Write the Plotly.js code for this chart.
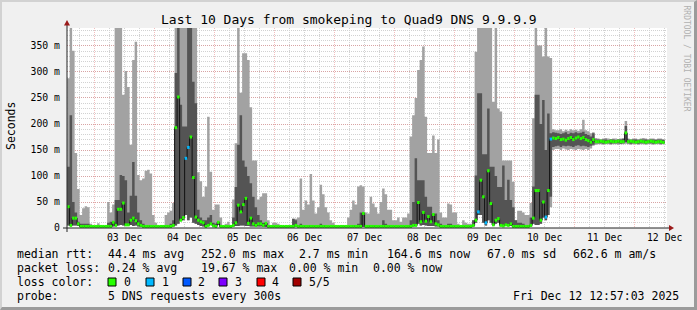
<!DOCTYPE html>
<html><head><meta charset="utf-8">
<script src="https://cdn.plot.ly/plotly-3.0.1.min.js"></script>
<style>
html,body{margin:0;padding:0;background:#f0f0f0;}
#wrap{position:relative;width:697px;height:310px;}
#chart{position:absolute;left:0;top:0;width:697px;height:310px;}
#frame{position:absolute;left:0;top:0;width:697px;height:310px;box-sizing:border-box;border-left:2px solid #d2d2d2;border-top:2px solid #d2d2d2;border-right:3px solid #9b9b9b;border-bottom:3px solid #9b9b9b;pointer-events:none;}
</style>
</head><body>
<div id="wrap"><div id="chart"></div><div id="frame"></div></div>
<script>
// ---- time frame (hourly RRA bins, 2025-12-02 13:00 .. 2025-12-12 12:00) ----
const firstBin = Date.UTC(2025, 11, 2, 13, 0, 0);
const viewStart = Date.UTC(2025, 11, 2, 12, 57, 3);
const viewEnd = Date.UTC(2025, 11, 12, 12, 57, 3);

// ---- smoke: sorted pings (ms) per hour ----
const ping5 = [
288,420,341,144,75,25,38,42,40,8,
5,5,9,6,5,5,50,30,45,420,
420,420,256,302,271,160,323,358,102,92,
95,110,112,105,25,10,5,5,6,25,
30,33,48,420,420,420,420,420,420,420,
420,420,107,90,60,80,214,108,35,45,
45,20,5,8,12,6,55,163,420,260,
336,336,323,232,130,130,55,60,67,67,
15,6,10,10,8,5,4,5,5,6,
18,18,20,95,35,53,45,104,53,28,
40,83,65,40,30,15,10,6,5,6,
6,5,20,35,53,45,80,82,80,30,
28,60,47,40,28,50,76,65,35,35,
15,15,20,12,20,20,28,176,217,250,
304,323,349,214,144,144,178,144,170,30,
20,20,47,45,30,30,8,5,15,10,
8,8,15,339,420,420,420,420,420,420,
243,420,230,224,130,130,130,130,89,15,
33,33,30,25,25,48,211,420,351,351,
330,420,330,327,190,188,188,190,186,189,
187,190,188,189,187,190,208,188,186,182,
184,173,172,171,172,173,172,171,172,172,
171,172,173,206,172,171,172,172,171,172,
173,172,171,172,172,171,172,172,171];

const ping4 = [
118,217,50,30,12,8,8,8,8,4,
3.5,3.5,5,4,3.5,3.5,10,12,12,54,
54,102,100,92,30,62,127,62,30,15,
8,6,6,5,4,3.5,3.5,3.5,3.5,5,
6,8,15,298,420,237,195,195,420,420,
281,240,35,20,15,15,20,25,10,8,
12,6,3.5,4,5,4,20,79,160,217,
130,118,100,86,60,40,25,15,10,10,
5,4,4,4,4,3.5,3.5,3.5,3.5,3.5,
18,15,6,8,5,5,5,6,5,4,
5,8,6,5,4,4,4,3.5,3.5,3.5,
3.5,3.5,4,5,6,5,8,30,30,6,
5,6,5,5,4,5,15,8,5,5,
4,4,4,4,4,4,5,15,50,134,
92,92,92,60,41,41,28,28,15,8,
5,5,8,8,5,5,4,3.5,4,4,
4,4,15,101,259,259,142,142,230,118,
118,100,79,79,120,54,93,54,40,15,
10,10,8,6,6,20,80,256,256,200,
246,150,220,182,184,183,182,181,182,184,
181,183,182,184,182,183,185,181,179,176,
182,170,170,169,170,170,169,170,170,169,
170,170,171,196,170,169,170,170,169,170,
170,170,169,170,170,169,170,170,169];

const ping2 = [
5,5,5,5,4,2,2,2,2,2,
2,2,2,2,2,2,2,2,3,4,
5,6,5,4,5,6,4,5,3,2,
2,2,2,2,2,2,2,2,2,2,
2,2,3,5,8,15,15,25,15,20,
10,8,6,4,3,3,6,8,4,3,
6,2,2,2,2,2,3,4,4,5,
5,4,4,3,3,3,3,3,2,2,
2,2,2,2,2,2,2,2,2,2,
2,2,2,2,2,2,2,2,2,2,
2,2,2,2,2,2,2,2,2,2,
2,2,2,2,2,2,2,2,2,2,
2,2,2,2,2,2,2,2,2,2,
2,2,2,2,2,2,2,3,3,4,
8,5,6,5,4,4,4,3,3,2,
2,2,2,2,2,2,2,2,2,2,
2,2,3,10,25,25,10,5,15,10,
5,8,10,5,5,5,5,4,3,2,
2,2,2,2,2,3,8,6,6,8,
20,15,25,60,156,157,158,156,158,157,
158,157,156,158,159,157,158,157,156,158,
160,163,163,163,162,163,163,162,163,163,
163,162,163,165,163,162,163,163,162,163,
163,162,163,163,162,163,163,162,163];

const ping1 = [
5,5,5,5,4,2,2,2,2,2,
2,2,2,2,2,2,2,2,3,4,
5,6,5,4,5,6,4,5,3,2,
2,2,2,2,2,2,2,2,2,2,
2,2,3,5,8,15,15,25,15,20,
10,8,6,4,3,3,6,8,4,3,
6,2,2,2,2,2,3,4,4,5,
5,4,4,3,3,3,3,3,2,2,
2,2,2,2,2,2,2,2,2,2,
2,2,2,2,2,2,2,2,2,2,
2,2,2,2,2,2,2,2,2,2,
2,2,2,2,2,2,2,2,2,2,
2,2,2,2,2,2,2,2,2,2,
2,2,2,2,2,2,2,3,3,4,
8,5,6,5,4,4,4,3,3,2,
2,2,2,2,2,2,2,2,2,2,
2,2,3,10,25,25,10,5,15,10,
5,8,10,5,5,5,5,4,3,2,
2,2,2,2,2,3,8,6,6,8,
20,15,25,40,150,152,152,150,153,151,
150,152,151,150,152,151,150,152,150,153,
158,160,161,161,160,161,161,160,161,161,
160,161,161,162,161,160,161,161,160,161,
161,160,161,161,160,161,161,160,161];

const medianRtt = [
41,5,19,19,8,3,3,3,3,3,
3,3,3,3,3,3,3,3,11,5,
36,36,48,6,6,15,19,14,8,5,
3,3,3,3,3,3,3,3,3,3,
3,3,5,193,252,15,20,134,155,175,
97,21,15,12,10,3,5,8,4,3,
11,3,3,3,3,3,5,10,44,31,
45,57,9,19,8,5,8,8,5,9,
3,3,3,3,3,3,3,3,3,3,
3,5,3,3,3,3,3,3,3,3,
3,3,3,3,3,3,3,3,3,3,
3,3,3,3,3,3,3,3,28,3,
3,3,3,3,3,3,3,3,3,3,
3,3,3,3,3,3,3,3,5,5,
49,12,30,13,22,12,26,8,6,3,
3,3,3,3,3,3,3,3,3,3,
3,3,5,15,31,92,60,10,110,47,
6,15,18,5,4,6,5,8,3,3,
3,3,3,3,3,5,19,72,72,15,
50,21,72,171,173,172,174,170,171,169,
172,174,170,173,175,172,174,170,168,165,
170,166,166,167,166,165,166,167,166,166,
167,166,166,183,166,167,166,165,166,167,
166,165,166,167,166,165,166,166,164.6];

// lost pings (of 5) per hour
const lostPings = [
0,0,0,0,0,0,0,0,0,0, 0,0,0,0,0,0,0,0,0,0,
0,0,0,0,0,0,0,0,0,0, 0,0,0,0,0,0,0,0,0,0,
0,0,0,0,0,0,0,1,1,0, 0,0,0,0,0,0,0,0,0,0,
0,0,0,0,0,0,0,0,0,0, 0,0,0,0,0,0,0,0,0,0,
0,0,0,0,0,0,0,0,0,0, 0,0,0,0,0,0,0,0,0,0,
0,0,0,0,0,0,0,0,0,0, 0,0,0,0,0,0,0,0,0,0,
0,0,0,0,0,0,0,0,0,0, 0,0,0,0,0,0,0,0,0,0,
0,0,0,0,0,0,0,0,0,0, 0,0,0,0,0,0,0,0,0,0,
0,0,0,0,1,0,0,1,0,0, 0,0,0,0,0,0,0,0,0,0,
0,0,0,0,0,0,0,0,0,0, 0,1,0,1,0,0,0,0,0,0,
0,0,0,0,0,0,0,0,0,0, 0,0,0,0,0,0,0,0,0,0,
0,0,0,0,0,0,0,0,0,0, 0,0,0,0,0,0,0,0,0];

const lossColors = ['#26ff00','#00b8ff','#0059ff','#7e00ff','#ff0000','#a10000'];
const lossLabels = ['0','1','2','3','4','5/5'];

const yTickVals = [0,50,100,150,200,250,300,350];
const yTickText = ['0','50 m','100 m','150 m','200 m','250 m','300 m','350 m'];

const titleText = 'Last 10 Days from smokeping to Quad9 DNS 9.9.9.9';
const legendRows = [
  [[16,'median rtt:'],[107,'44.4 ms avg'],[200,'252.0 ms max'],[298,'2.7 ms min'],[386,'164.6 ms now'],[486,'67.0 ms sd'],[572,'662.6 m am/s']],
  [[16,'packet loss:'],[107,'0.24 % avg'],[200,'19.67 % max'],[288,'0.00 % min'],[372,'0.00 % now']],
  [[16,'loss color:']],
  [[16,'probe:'],[107,'5 DNS requests every 300s']]
];
const stampText = 'Fri Dec 12 12:57:03 2025';

// ---- build ----
const H = 3600000;
const n = medianRtt.length;
const stepX = [];
for (let k = 0; k <= n; k++) stepX.push(firstBin + k * H);
const stepY = a => a.concat([a[a.length - 1]]);

const F = 'DejaVu Sans Mono, monospace';
const traces = [];
const edge = {width: 0, shape: 'hv'};
traces.push({x: stepX, y: stepY(ping1), mode: 'lines', line: edge, hoverinfo: 'skip'});
traces.push({x: stepX, y: stepY(ping5), mode: 'lines', line: edge, fill: 'tonexty', fillcolor: '#a2a2a2', hoverinfo: 'skip'});
traces.push({x: stepX, y: stepY(ping2), mode: 'lines', line: edge, hoverinfo: 'skip'});
traces.push({x: stepX, y: stepY(ping4), mode: 'lines', line: edge, fill: 'tonexty', fillcolor: '#545454', hoverinfo: 'skip'});
traces.push({x: stepX, y: stepY(medianRtt), mode: 'lines', line: {width: 1, shape: 'hv', color: '#111111'}, hoverinfo: 'skip'});
for (let L = 0; L < lossColors.length; L++) {
  const sx = [], sy = [];
  for (let k = 0; k < n; k++) {
    if (lostPings[k] === L) { sx.push(stepX[k], stepX[k + 1], null); sy.push(medianRtt[k], medianRtt[k], null); }
  }
  if (sx.length) traces.push({x: sx, y: sy, mode: 'lines', connectgaps: false, line: {width: 3, color: lossColors[L]}, hoverinfo: 'skip'});
}

// pixel helpers (plot area: x 67..667, y 28..228)
const PX = x => (x - 67) / 600;
const PY = y => (228 - y) / 200;
const anns = [];
function ann(x, y, text, o) {
  anns.push(Object.assign({xref: 'paper', yref: 'paper', x: PX(x), y: PY(y), text: text, showarrow: false,
    xanchor: 'left', yanchor: 'middle', borderpad: 0, font: {family: F, size: 11.5, color: '#000'}}, o || {}));
}
ann(348.5, 19, titleText, {xanchor: 'center', font: {family: F, size: 13, color: '#000'}});
ann(11, 126, 'Seconds', {xanchor: 'center', textangle: -90});
ann(686.5, 58, 'RRDTOOL / TOBI OETIKER', {xanchor: 'center', textangle: 90, font: {family: F, size: 8, color: '#b0b0b0'}});
const rowY = [254, 268, 282, 296];
legendRows.forEach((row, i) => row.forEach(p => ann(p[0], rowY[i], p[1])));
ann(680, 296, stampText, {xanchor: 'right'});

const shapes = [];
const boxX = [108, 146, 183, 219, 257, 293];
const labX = [123, 161, 197, 234, 271, 308];
lossColors.forEach((c, i) => {
  shapes.push({type: 'rect', xref: 'paper', yref: 'paper', x0: PX(boxX[i]), x1: PX(boxX[i] + 8), y0: PY(286), y1: PY(278),
    fillcolor: c, line: {color: '#000', width: 1}});
  ann(labX[i], 282, lossLabels[i]);
});
// axes with arrows
shapes.push({type: 'line', xref: 'paper', yref: 'paper', x0: PX(67), x1: PX(67), y0: PY(232), y1: PY(23), line: {color: '#222', width: 1}});
shapes.push({type: 'line', xref: 'paper', yref: 'paper', x0: PX(63), x1: PX(670), y0: PY(228), y1: PY(228), line: {color: '#222', width: 1}});
shapes.push({type: 'path', xref: 'paper', yref: 'paper', path: `M ${PX(64)} ${PY(25.5)} L ${PX(70)} ${PY(25.5)} L ${PX(67)} ${PY(20)} Z`, fillcolor: '#9b1a1a', line: {width: 0}});
shapes.push({type: 'path', xref: 'paper', yref: 'paper', path: `M ${PX(669)} ${PY(225)} L ${PX(669)} ${PY(231)} L ${PX(674)} ${PY(228)} Z`, fillcolor: '#9b1a1a', line: {width: 0}});

const majorGrid = 'rgba(225,100,100,0.42)';
const minorGrid = '#d2d2d2';
const layout = {
  width: 697, height: 310, margin: {l: 67, r: 30, t: 28, b: 82, pad: 0},
  paper_bgcolor: '#f0f0f0', plot_bgcolor: '#ffffff', showlegend: false,
  xaxis: {type: 'date', range: [viewStart, viewEnd], tick0: '2025-12-03', dtick: 86400000,
    ticklabelmode: 'period', tickformat: '%d %b', showgrid: true, gridcolor: majorGrid, griddash: '1px,1px', gridwidth: 1,
    minor: {dtick: 21600000, tick0: '2025-12-03', showgrid: true, gridcolor: minorGrid, griddash: '1px,1px', gridwidth: 1},
    zeroline: false, showline: false, ticks: '', ticklabelstandoff: 2, tickfont: {family: F, size: 9.8, color: '#000'}, fixedrange: true},
  yaxis: {range: [0, 384.6], tickmode: 'array', tickvals: yTickVals, ticktext: yTickText,
    showgrid: true, gridcolor: majorGrid, griddash: '1px,1px', gridwidth: 1,
    minor: {dtick: 10, tick0: 0, showgrid: true, gridcolor: minorGrid, griddash: '1px,1px', gridwidth: 1},
    zeroline: false, showline: false, ticks: '', ticklabelstandoff: 6, tickfont: {family: F, size: 9.8, color: '#000'}, fixedrange: true},
  annotations: anns, shapes: shapes
};
Plotly.newPlot('chart', traces, layout, {staticPlot: true, displayModeBar: false});
</script>
</body></html>
